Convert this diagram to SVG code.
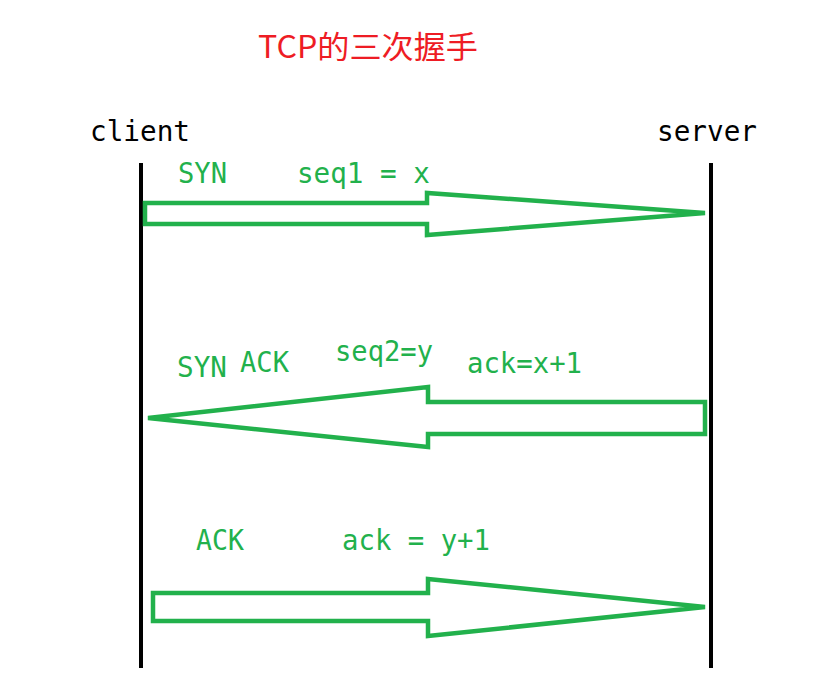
<svg xmlns="http://www.w3.org/2000/svg" width="840" height="697" viewBox="0 0 840 697">
<style>
.g{fill:#22b14c;font-family:"DejaVu Sans Mono","Liberation Mono",monospace;font-size:29px}
.k{fill:#000;font-family:"DejaVu Sans Mono","Liberation Mono",monospace;font-size:28px}
.arrow{fill:none;stroke:#22b14c;stroke-width:4.5;stroke-linejoin:miter}
.life{stroke:#000;stroke-width:4}
</style>
<rect width="840" height="697" fill="#fff"/>
<text x="258" y="58" fill="#ee1c24" font-family="'Noto Sans CJK SC',sans-serif" font-size="31" textLength="220" lengthAdjust="spacingAndGlyphs">TCP的三次握手</text>
<g id="client">
<text class="k" x="90" y="141" textLength="100" lengthAdjust="spacingAndGlyphs">client</text>
<line class="life" x1="141" y1="163" x2="141" y2="668"/>
</g>
<g id="server">
<text class="k" x="657" y="141" textLength="100" lengthAdjust="spacingAndGlyphs">server</text>
<line class="life" x1="711" y1="163" x2="711" y2="668"/>
</g>
<g id="connectors">
<g id="syn">
<polygon class="arrow" points="145,203 427,203 427,193 705,213 427,235 427,224 145,224"/>
<text class="g" x="178" y="183" textLength="49" lengthAdjust="spacingAndGlyphs">SYN</text>
<text class="g" x="297" y="183" textLength="133" lengthAdjust="spacingAndGlyphs">seq1 = x</text>
</g>
<g id="synack">
<polygon class="arrow" points="705,402 428,402 428,387 148,418 428,447 428,434 705,434"/>
<text class="g" x="177" y="377" textLength="50" lengthAdjust="spacingAndGlyphs">SYN</text>
<text class="g" x="240" y="372" textLength="49" lengthAdjust="spacingAndGlyphs">ACK</text>
<text class="g" x="335" y="361" textLength="98" lengthAdjust="spacingAndGlyphs">seq2=y</text>
<text class="g" x="467" y="373" textLength="115" lengthAdjust="spacingAndGlyphs">ack=x+1</text>
</g>
<g id="ack">
<polygon class="arrow" points="153,593 428,593 428,579 705,607 428,636 428,621 153,621"/>
<text class="g" x="196" y="550" textLength="48" lengthAdjust="spacingAndGlyphs">ACK</text>
<text class="g" x="342" y="550" textLength="148" lengthAdjust="spacingAndGlyphs">ack = y+1</text>
</g>
</g>
</svg>
